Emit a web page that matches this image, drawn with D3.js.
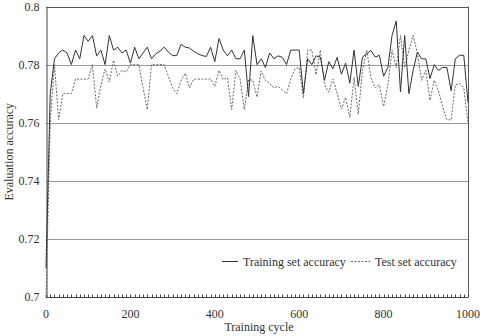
<!DOCTYPE html>
<html>
<head>
<meta charset="utf-8">
<script src="https://cdn.jsdelivr.net/npm/d3@7/dist/d3.min.js"></script>
<style>
  html, body { margin: 0; padding: 0; background: #fff; }
  svg { display: block; font-family: "Liberation Serif", "DejaVu Serif", serif; }
</style>
</head>
<body>
<div id="chart"></div>
<script>
const STEP = 10;
const cycles = d3.range(0, 1001, STEP);

const trainAcc = [
  0.710, 0.770, 0.782, 0.784, 0.785, 0.784, 0.780, 0.785, 0.782, 0.790,
  0.788, 0.790, 0.783, 0.785, 0.780, 0.790, 0.785, 0.786, 0.784, 0.785,
  0.7805, 0.786, 0.782, 0.784, 0.786, 0.782, 0.7837, 0.7846, 0.786, 0.7843,
  0.7831, 0.7831, 0.787, 0.786, 0.7857, 0.7846, 0.7837, 0.7831, 0.7828, 0.786,
  0.781, 0.789, 0.785, 0.783, 0.785, 0.782, 0.782, 0.785, 0.769, 0.790,
  0.780, 0.782, 0.779, 0.784, 0.782, 0.783, 0.7825, 0.780, 0.785, 0.785,
  0.785, 0.770, 0.782, 0.780, 0.783, 0.7826, 0.7746, 0.781, 0.7786, 0.7825,
  0.7767, 0.7805, 0.7736, 0.785, 0.7725, 0.7826, 0.7837, 0.7849, 0.7826, 0.7832,
  0.776, 0.779, 0.790, 0.795, 0.7706, 0.790, 0.770, 0.778, 0.7843, 0.782,
  0.782, 0.7752, 0.780, 0.778, 0.779, 0.779, 0.771, 0.782, 0.7832, 0.7832,
  0.767
];

const testAcc = [
  0.700, 0.760, 0.780, 0.761, 0.770, 0.770, 0.770, 0.775, 0.775, 0.775,
  0.775, 0.780, 0.765, 0.773, 0.7785, 0.774, 0.7815, 0.776, 0.778, 0.7775,
  0.780, 0.780, 0.780, 0.772, 0.7645, 0.780, 0.780, 0.780, 0.780, 0.776,
  0.772, 0.770, 0.7745, 0.777, 0.772, 0.775, 0.775, 0.775, 0.775, 0.775,
  0.7725, 0.778, 0.7748, 0.7755, 0.7645, 0.778, 0.775, 0.7645, 0.7747, 0.7747,
  0.7688, 0.7778, 0.7745, 0.7735, 0.772, 0.7725, 0.7713, 0.770, 0.775, 0.7786,
  0.779, 0.7685, 0.785, 0.785, 0.7765, 0.785, 0.773, 0.7705, 0.775, 0.770,
  0.7647, 0.7687, 0.7618, 0.7756, 0.763, 0.778, 0.785, 0.7755, 0.772, 0.773,
  0.7656, 0.773, 0.785, 0.779, 0.790, 0.779, 0.785, 0.790, 0.784, 0.7746,
  0.778, 0.7677, 0.7746, 0.771, 0.7654, 0.761, 0.761, 0.773, 0.7735, 0.772,
  0.760
];

const yTicks = [0.7, 0.72, 0.74, 0.76, 0.78, 0.8];
const xTicks = [0, 200, 400, 600, 800, 1000];
const seriesNames = ['Training set accuracy', 'Test set accuracy'];

const width = 480, height = 336;
const plot = { left: 46, right: 468, top: 6.5, bottom: 297 };

const svg = d3.select('#chart')
  .append('svg')
  .attr('width', width)
  .attr('height', height);

svg.append('rect')
  .attr('width', width)
  .attr('height', height)
  .attr('fill', '#fff');

const x = d3.scaleLinear().domain([0, 1000]).range([plot.left, plot.right]);
const y = d3.scaleLinear().domain([0.7, 0.8]).range([plot.bottom, plot.top]);

// horizontal gridlines
svg.append('g')
  .selectAll('line')
  .data(yTicks.filter(t => t > 0.7 && t < 0.8))
  .enter().append('line')
  .attr('x1', plot.left)
  .attr('x2', plot.right)
  .attr('y1', d => Math.round(y(d)) + 0.5)
  .attr('y2', d => Math.round(y(d)) + 0.5)
  .attr('stroke', '#9a9a9a')
  .attr('stroke-width', 1);

// top and right frame
svg.append('line')
  .attr('x1', plot.left).attr('x2', plot.right)
  .attr('y1', Math.round(y(0.8)) + 0.5).attr('y2', Math.round(y(0.8)) + 0.5)
  .attr('stroke', '#555');
svg.append('line')
  .attr('x1', Math.round(plot.right) + 0.5).attr('x2', Math.round(plot.right) + 0.5)
  .attr('y1', y(0.8)).attr('y2', plot.bottom)
  .attr('stroke', '#555');

// y axis
const yAxis = d3.axisLeft(y)
  .tickValues(yTicks)
  .tickSize(0)
  .tickPadding(7)
  .tickFormat(d => String(+d.toFixed(2)));

const gy = svg.append('g')
  .attr('transform', `translate(${plot.left + 0.5},0)`)
  .call(yAxis);
gy.select('.domain').attr('stroke', '#444');
gy.selectAll('text')
  .attr('font-size', 12)
  .attr('fill', '#333')
  .attr('font-family', '"Liberation Serif", serif');

// x axis with minor ticks pointing inward
const gx = svg.append('g')
  .attr('transform', `translate(0,${Math.round(plot.bottom) + 0.5})`);

gx.append('line')
  .attr('x1', plot.left).attr('x2', plot.right)
  .attr('stroke', '#444');

gx.selectAll('.minor')
  .data(cycles)
  .enter().append('line')
  .attr('class', 'minor')
  .attr('x1', d => Math.round(x(d)) + 0.5)
  .attr('x2', d => Math.round(x(d)) + 0.5)
  .attr('y1', 0)
  .attr('y2', -3)
  .attr('stroke', '#444');

gx.selectAll('.lbl')
  .data(xTicks)
  .enter().append('text')
  .attr('class', 'lbl')
  .attr('x', d => x(d))
  .attr('y', 20)
  .attr('text-anchor', 'middle')
  .attr('font-size', 12)
  .attr('fill', '#333')
  .text(d => d);

// axis titles
svg.append('text')
  .attr('x', (plot.left + plot.right) / 2 + 2)
  .attr('y', 331)
  .attr('text-anchor', 'middle')
  .attr('font-size', 12)
  .attr('fill', '#333')
  .text('Training cycle');

svg.append('text')
  .attr('transform', `translate(13,${(plot.top + plot.bottom) / 2}) rotate(-90)`)
  .attr('text-anchor', 'middle')
  .attr('font-size', 12)
  .attr('fill', '#333')
  .text('Evaluation accuracy');

// series
const line = d3.line()
  .x((d, i) => x(cycles[i]))
  .y(d => y(d));

svg.append('path')
  .datum(testAcc)
  .attr('d', line)
  .attr('fill', 'none')
  .attr('stroke', '#666')
  .attr('stroke-width', 1)
  .attr('stroke-dasharray', '2,1.5');

svg.append('path')
  .datum(trainAcc)
  .attr('d', line)
  .attr('fill', 'none')
  .attr('stroke', '#333')
  .attr('stroke-width', 1);

// legend
const legend = svg.append('g').attr('font-size', 12).attr('fill', '#333');
legend.append('line')
  .attr('x1', 222).attr('x2', 238).attr('y1', 261.5).attr('y2', 261.5)
  .attr('stroke', '#333');
legend.append('text')
  .attr('x', 243).attr('y', 265.5)
  .text(seriesNames[0]);
legend.append('line')
  .attr('x1', 351).attr('x2', 372).attr('y1', 261.5).attr('y2', 261.5)
  .attr('stroke', '#666')
  .attr('stroke-dasharray', '2,1.5');
legend.append('text')
  .attr('x', 375).attr('y', 265.5)
  .text(seriesNames[1]);
</script>
</body>
</html>
